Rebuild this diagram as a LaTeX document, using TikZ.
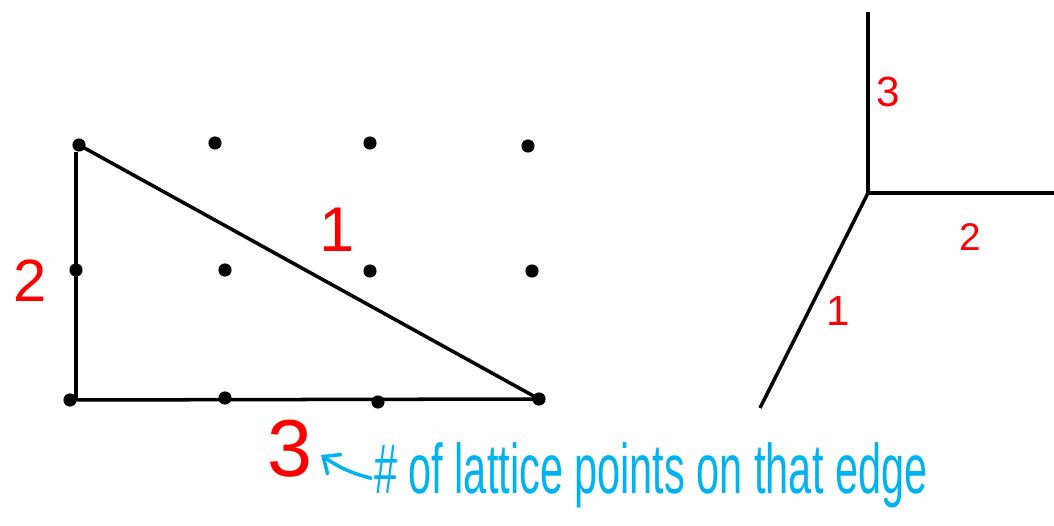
\documentclass[tikz,border=0pt]{standalone}
\usepackage{fontspec}
\setmainfont{Liberation Sans}
\usetikzlibrary{arrows.meta}
\definecolor{handred}{RGB}{255,0,0}
\definecolor{handcyan}{RGB}{0,178,240}
\tikzset{
  edge/.style={line width=2pt, black},
  dot/.style={circle, fill=black, inner sep=0pt, minimum size=7.5pt},
  redlab/.style={text=handred, inner sep=0pt},
  note/.style={text=handcyan, inner sep=1pt}
}
\begin{document}
\begin{tikzpicture}[x=0.02cm, y=-0.02cm]
\useasboundingbox (0,0) rectangle (1054,526);
% lattice dots
\node[dot] (a1) at (79,145) {};
\node[dot] (a2) at (215,143) {};
\node[dot] (a3) at (370,143) {};
\node[dot] (a4) at (528,146) {};
\node[dot] (b1) at (76,270) {};
\node[dot] (b2) at (225,270) {};
\node[dot] (b3) at (370,271) {};
\node[dot] (b4) at (532,271) {};
\node[dot] (c1) at (70,400) {};
\node[dot] (c2) at (225,398) {};
\node[dot] (c3) at (378,402) {};
\node[dot] (c4) at (539,399) {};
% triangle
\coordinate (lt) at (76,152);
\coordinate (lb) at (76,399);
\draw[edge] (a1.center) -- (c4.center);
\draw[edge] (c1.center) -- (c4.center);
\draw[edge] (lt) -- (lb);
% labels on triangle
\node[redlab, font=\fontsize{34}{34}\selectfont] (l2) at (30,281) {2};
\node[redlab, font=\fontsize{36}{36}\selectfont] (l1) at (337,230) {1};
\node[redlab, font=\fontsize{46}{46}\selectfont] (l3) at (290,449) {3};
% right-hand tropical curve
\coordinate (v) at (868,193);
\coordinate (up) at (868,12);
\coordinate (rt) at (1054,193);
\coordinate (dl) at (760,408);
\draw[edge] (v) -- (up);
\draw[edge] (v) -- (rt);
\draw[edge] (v) -- (dl);
\node[redlab, font=\fontsize{24}{24}\selectfont] (r3) at (888,92) {3};
\node[redlab, font=\fontsize{22}{22}\selectfont] (r2) at (970,237) {2};
\node[redlab, font=\fontsize{24}{24}\selectfont] (r1) at (838,311) {1};
% note
\node[note, anchor=west] (txt) at (372,475) {\scalebox{0.59}[1]{\fontsize{40}{40}\selectfont \# of lattice points on that edge}};
\coordinate (ah) at (321,455);
\draw[handcyan, line width=2pt, -{Straight Barb[length=8pt, width=14pt]}] ([yshift=-2pt]txt.west) to[bend left=10] (ah);
\end{tikzpicture}
\end{document}
